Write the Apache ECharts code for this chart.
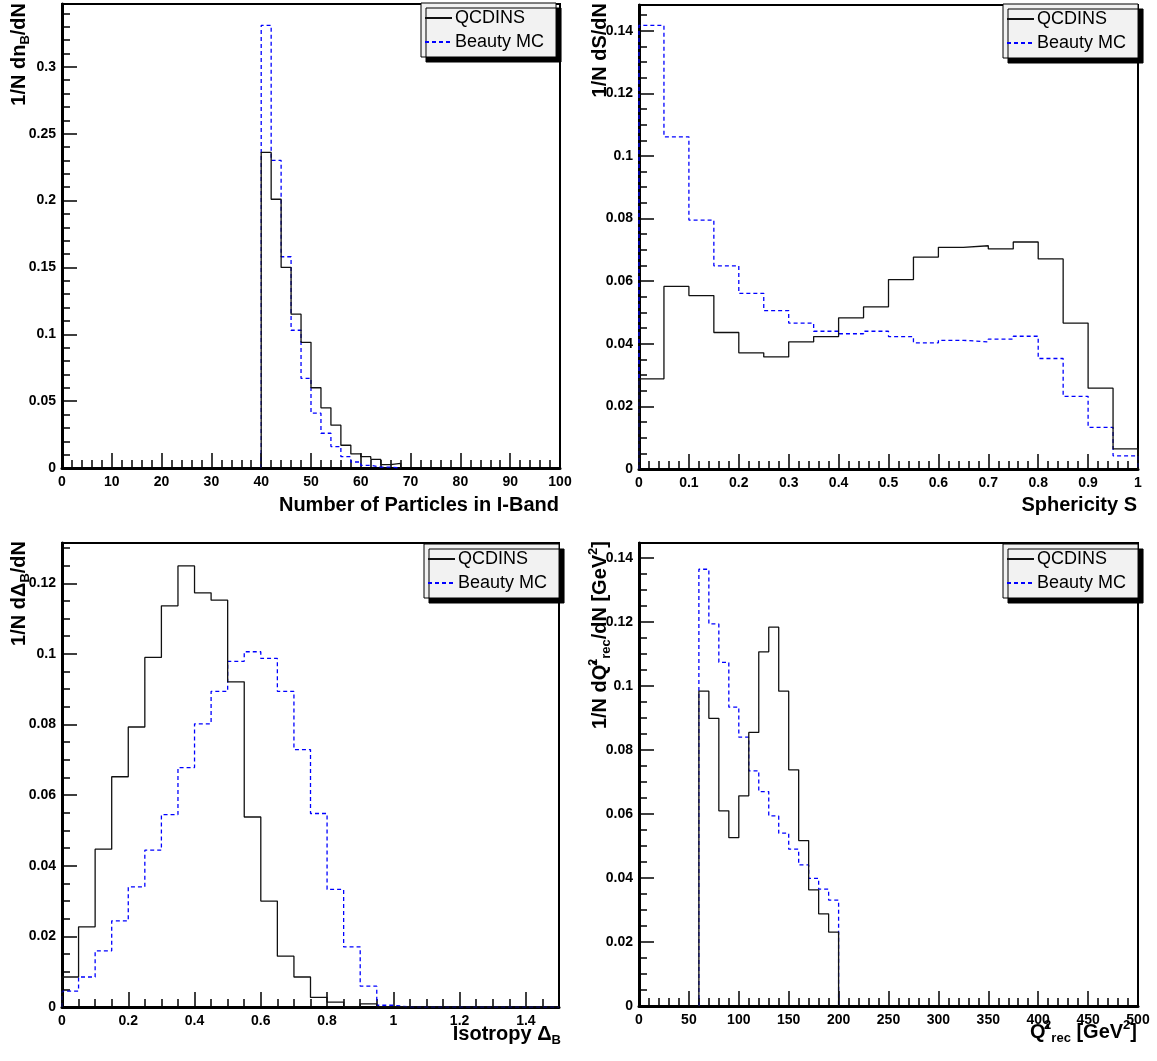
<!DOCTYPE html>
<html>
<head>
<meta charset="utf-8">
<script src="https://cdn.jsdelivr.net/npm/echarts@6/dist/echarts.min.js"></script>
<style>
html,body{margin:0;padding:0;background:#fff;}
#chart{width:1157px;height:1061px;}
</style>
</head>
<body>
<div id="chart"></div>
<script>
// ---------- DATA ----------
const seriesNames = ['QCDINS', 'Beauty MC'];

// Panel 1: Number of particles in I-Band (bin width 2)
const nbBins = [40, 42, 44, 46, 48, 50, 52, 54, 56, 58, 60, 62, 64, 66];
const nbBinWidth = 2;
const nbQCDINS = [0.236, 0.201, 0.150, 0.115, 0.094, 0.060, 0.045, 0.032, 0.017, 0.0105, 0.0085, 0.0065, 0.0025, 0.0035];
const nbBeauty = [0.331, 0.230, 0.158, 0.103, 0.067, 0.041, 0.026, 0.016, 0.0085, 0.0045, 0.002, 0.0006, 0.0006, 0];

// Panel 2: Sphericity S (bin width 0.05)
const sphBins = [0, 0.05, 0.1, 0.15, 0.2, 0.25, 0.3, 0.35, 0.4, 0.45, 0.5, 0.55, 0.6, 0.65, 0.7, 0.75, 0.8, 0.85, 0.9, 0.95];
const sphBinWidth = 0.05;
const sphQCDINS = [0.0288, 0.0583, 0.0554, 0.0436, 0.0371, 0.0358, 0.0406, 0.0423, 0.0483, 0.0518, 0.0605, 0.0677, 0.0708, 0.0713, 0.0703, 0.0725, 0.0671, 0.0466, 0.0258, 0.0064];
const sphBeauty = [0.1417, 0.1061, 0.0795, 0.0649, 0.0561, 0.0506, 0.0466, 0.0440, 0.0432, 0.0440, 0.0423, 0.0403, 0.0411, 0.0406, 0.0415, 0.0424, 0.0353, 0.0232, 0.0133, 0.0042];

// Panel 3: Isotropy Delta_B (bin width 0.05)
const isoBins = [0, 0.05, 0.1, 0.15, 0.2, 0.25, 0.3, 0.35, 0.4, 0.45, 0.5, 0.55, 0.6, 0.65, 0.7, 0.75, 0.8, 0.85, 0.9, 0.95, 1.0, 1.05, 1.1, 1.15, 1.2, 1.25, 1.3, 1.35, 1.4, 1.45];
const isoBinWidth = 0.05;
const isoQCDINS = [0.0085, 0.0227, 0.0447, 0.0652, 0.0793, 0.0990, 0.1136, 0.1249, 0.1173, 0.1152, 0.0921, 0.0538, 0.0300, 0.0144, 0.0085, 0.0027, 0.0014, 0, 0.0009, 0, 0, 0, 0, 0, 0, 0, 0, 0, 0, 0];
const isoBeauty = [0.0045, 0.0085, 0.0159, 0.0244, 0.0340, 0.0444, 0.0545, 0.0678, 0.0802, 0.0894, 0.0979, 0.1006, 0.0987, 0.0894, 0.0729, 0.0548, 0.0333, 0.0170, 0.0059, 0.0005, 0, 0, 0, 0, 0, 0, 0, 0, 0, 0];

// Panel 4: Q'^2_rec (bin width 10)
const qBins = [60, 70, 80, 90, 100, 110, 120, 130, 140, 150, 160, 170, 180, 190];
const qBinWidth = 10;
const qQCDINS = [0.0984, 0.0899, 0.0610, 0.0526, 0.0657, 0.0855, 0.1107, 0.1184, 0.0984, 0.0738, 0.0517, 0.0363, 0.0288, 0.0231];
const qBeauty = [0.1365, 0.1194, 0.1074, 0.0934, 0.0840, 0.0735, 0.0670, 0.0594, 0.0540, 0.0490, 0.0441, 0.0399, 0.0365, 0.0331];

// ---------- HELPERS ----------
const FONT = '"Liberation Sans", Arial, Helvetica, sans-serif';

function histPoints(bins, width, vals) {
  const pts = [[bins[0], 0]];
  vals.forEach((v, i) => {
    const lo = bins[i];
    const hi = (i + 1 < bins.length) ? bins[i + 1] : bins[i] + width;
    pts.push([lo, v]);
    pts.push([hi, v]);
  });
  pts.push([pts[pts.length - 1][0], 0]);
  return pts;
}

const panels = [
  { grid: { left: 62, top: 4, width: 498, height: 464 },
    x: { max: 100, major: 10, minor: 2, showMax: true },
    y: { max: 0.347, major: 0.05, minor: 0.01 },
    bins: nbBins, w: nbBinWidth, a: nbQCDINS, b: nbBeauty,
    legend: { left: 421, top: 3 } },
  { grid: { left: 639, top: 5, width: 499, height: 464 },
    x: { max: 1, major: 0.1, minor: 0.02, showMax: true },
    y: { max: 0.1482, major: 0.02, minor: 0.005 },
    bins: sphBins, w: sphBinWidth, a: sphQCDINS, b: sphBeauty,
    legend: { left: 1003, top: 4 } },
  { grid: { left: 62, top: 543, width: 497, height: 464 },
    x: { max: 1.5, major: 0.2, minor: 0.05, showMax: false },
    y: { max: 0.1314, major: 0.02, minor: 0.005 },
    bins: isoBins, w: isoBinWidth, a: isoQCDINS, b: isoBeauty,
    legend: { left: 424, top: 544 } },
  { grid: { left: 639, top: 543, width: 499, height: 463 },
    x: { max: 500, major: 50, minor: 10, showMax: true },
    y: { max: 0.1447, major: 0.02, minor: 0.005 },
    bins: qBins, w: qBinWidth, a: qQCDINS, b: qBeauty,
    legend: { left: 1003, top: 544 } }
];

const grids = [], xAxes = [], yAxes = [], series = [], legends = [];
const labelStyle = { color: '#000', fontFamily: FONT, fontWeight: 'bold', fontSize: 14 };

panels.forEach((p, gi) => {
  grids.push(Object.assign({ show: true, borderColor: '#000', borderWidth: 2, backgroundColor: '#fff', containLabel: false }, p.grid));
  // major x axis
  xAxes.push({
    type: 'value', gridIndex: gi, position: 'bottom', min: 0, max: p.x.max, interval: p.x.major,
    axisLine: { show: true, onZero: false, lineStyle: { color: '#000', width: 3 } },
    axisTick: { show: true, inside: true, length: 15, lineStyle: { color: '#000', width: 1.5 } },
    axisLabel: Object.assign({ margin: 7, showMaxLabel: p.x.showMax, showMinLabel: true }, labelStyle),
    splitLine: { show: false }
  });
  // minor x ticks
  xAxes.push({
    type: 'value', gridIndex: gi, position: 'bottom', min: 0, max: p.x.max, interval: p.x.minor,
    axisLine: { show: false, onZero: false },
    axisTick: { show: true, inside: true, length: 8, lineStyle: { color: '#000', width: 1.5 } },
    axisLabel: { show: false }, splitLine: { show: false }
  });
  // major y axis
  yAxes.push({
    type: 'value', gridIndex: gi, position: 'left', min: 0, max: p.y.max, interval: p.y.major,
    axisLine: { show: true, onZero: false, lineStyle: { color: '#000', width: 3 } },
    axisTick: { show: true, inside: true, length: 15, lineStyle: { color: '#000', width: 1.5 } },
    axisLabel: Object.assign({ margin: 6, showMaxLabel: false, showMinLabel: true }, labelStyle),
    splitLine: { show: false }
  });
  // minor y ticks
  yAxes.push({
    type: 'value', gridIndex: gi, position: 'left', min: 0, max: p.y.max, interval: p.y.minor,
    axisLine: { show: false, onZero: false },
    axisTick: { show: true, inside: true, length: 8, lineStyle: { color: '#000', width: 1.5 } },
    axisLabel: { show: false }, splitLine: { show: false }
  });
  const xi = gi * 2, yi = gi * 2;
  series.push({
    name: seriesNames[1], type: 'line', xAxisIndex: xi, yAxisIndex: yi, symbol: 'none', showSymbol: false,
    data: histPoints(p.bins, p.w, p.b), clip: true, z: 3,
    itemStyle: { color: '#0000ff' },
    lineStyle: { color: '#0000ff', width: 1.3, type: [4, 3] }
  });
  series.push({
    name: seriesNames[0], type: 'line', xAxisIndex: xi, yAxisIndex: yi, symbol: 'none', showSymbol: false,
    data: histPoints(p.bins, p.w, p.a), clip: true, z: 4,
    itemStyle: { color: '#111' },
    lineStyle: { color: '#111', width: 1.3, type: 'solid' }
  });
  legends.push({
    data: seriesNames.slice(), orient: 'vertical', left: p.legend.left, top: p.legend.top,
    selectedMode: false, itemWidth: 27, itemHeight: 12, itemGap: 2,
    padding: [4, 12, 4, 3],
    backgroundColor: '#f2f2f2', borderColor: '#000', borderWidth: 1,
    shadowColor: '#000', shadowBlur: 0, shadowOffsetX: 5, shadowOffsetY: 5,
    itemStyle: { color: 'rgba(0,0,0,0)', borderColor: 'rgba(0,0,0,0)', borderWidth: 0, opacity: 0 },
    textStyle: { color: '#000', fontFamily: FONT, fontSize: 18, padding: [0, 0, 0, -2], lineHeight: 22 },
    z: 10
  });
});

// axis titles (rich text, ROOT-style sub/superscripts)
const rich = {
  m: { fontFamily: FONT, fontWeight: 'bold', fontSize: 20, lineHeight: 26, color: '#000' },
  sub: { fontFamily: FONT, fontWeight: 'bold', fontSize: 13, lineHeight: 12, verticalAlign: 'bottom', color: '#000' },
  sup: { fontFamily: FONT, fontWeight: 'bold', fontSize: 13, lineHeight: 12, verticalAlign: 'top', color: '#000' },
  supz: { fontFamily: FONT, fontWeight: 'bold', fontSize: 13, lineHeight: 12, verticalAlign: 'top', color: '#000', width: 1 }
};
function title(text, x, y, rotated) {
  return {
    type: 'text', x: x, y: y, rotation: rotated ? Math.PI / 2 : 0, z: 20,
    style: { text: text, align: 'right', verticalAlign: 'middle', rich: rich, fill: '#000' }
  };
}
const graphics = [
  title('{m|Number of Particles in I-Band}', 559, 505, false),
  title('{m|Sphericity S}', 1137, 505, false),
  title('{m|Isotropy Δ}{sub|B}', 561, 1034, false),
  title("{m|Q'}{supz|2}{sub|rec}{m| [GeV}{sup|2}{m|]}", 1137, 1032, false),
  title('{m|1/N dn}{sub|B}{m|/dN}', 19, 3, true),
  title('{m|1/N dS/dN}', 600, 3, true),
  title('{m|1/N dΔ}{sub|B}{m|/dN}', 19, 541, true),
  title("{m|1/N dQ'}{supz|2}{sub|rec}{m|/dN [GeV}{sup|2}{m|]}", 600, 541, true)
];

const chart = echarts.init(document.getElementById('chart'), null, { renderer: 'canvas' });
chart.setOption({
  backgroundColor: '#fff',
  animation: false,
  grid: grids,
  xAxis: xAxes,
  yAxis: yAxes,
  legend: legends,
  series: series,
  graphic: graphics
});
</script>
</body>
</html>
